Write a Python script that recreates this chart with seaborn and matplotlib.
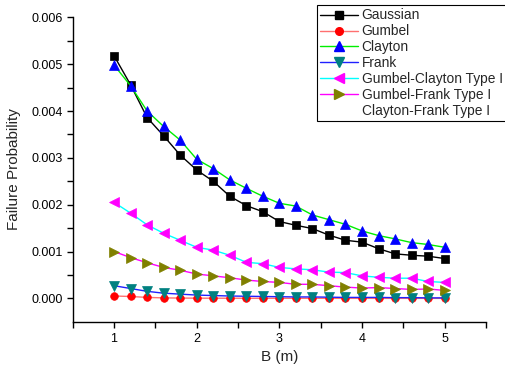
import matplotlib
matplotlib.use("Agg")
import matplotlib.pyplot as plt
from matplotlib.lines import Line2D
import seaborn as sns
import pandas as pd
import numpy as np

sns.set_theme(style="white")
plt.rcParams['font.family'] = ['Liberation Sans', 'DejaVu Sans']

B = [1.0, 1.2, 1.4, 1.6, 1.8, 2.0, 2.2, 2.4, 2.6, 2.8, 3.0,
     3.2, 3.4, 3.6, 3.8, 4.0, 4.2, 4.4, 4.6, 4.8, 5.0]

gaussian = [5.18, 4.56, 3.86, 3.47, 3.06, 2.74, 2.50, 2.18, 1.98, 1.85, 1.64,
            1.56, 1.49, 1.35, 1.24, 1.20, 1.06, 0.95, 0.92, 0.90, 0.85]
gumbel = [0.05, 0.04, 0.02, 0.01, 0.006, 0.004, 0.003, 0.002, 0.002, 0.001, 0.001,
          0.001, 0.001, 0.001, 0.0, 0.0, 0.0, 0.0, 0.0, 0.0, 0.0]
clayton = [4.98, 4.54, 4.00, 3.67, 3.38, 2.97, 2.77, 2.53, 2.35, 2.18, 2.03,
           1.97, 1.78, 1.68, 1.58, 1.44, 1.34, 1.27, 1.19, 1.15, 1.09]
frank = [0.27, 0.21, 0.15, 0.11, 0.09, 0.07, 0.06, 0.05, 0.045, 0.04, 0.035,
         0.03, 0.03, 0.025, 0.02, 0.02, 0.02, 0.015, 0.015, 0.01, 0.01]
gumbel_clayton = [2.05, 1.82, 1.57, 1.39, 1.24, 1.09, 1.03, 0.92, 0.77, 0.74, 0.66,
                  0.63, 0.61, 0.56, 0.55, 0.48, 0.45, 0.43, 0.43, 0.36, 0.34]
gumbel_frank = [1.00, 0.87, 0.76, 0.66, 0.60, 0.52, 0.48, 0.44, 0.39, 0.36, 0.34,
                0.30, 0.30, 0.27, 0.24, 0.22, 0.23, 0.21, 0.19, 0.20, 0.17]

labels = ["Gaussian", "Gumbel", "Clayton", "Frank",
          "Gumbel-Clayton Type I", "Gumbel-Frank Type I", "Clayton-Frank Type I"]

series = [
    (gaussian, "#000000", "#000000", "s", 5.5),
    (gumbel, "#ff7070", "#ff0000", "o", 5.5),
    (clayton, "#00ee00", "#0000ff", "^", 6.5),
    (frank, "#2020ff", "#008080", "v", 6.5),
    (gumbel_clayton, "#00ffff", "#ff00ff", "<", 6.5),
    (gumbel_frank, "#ff00ff", "#808000", ">", 6.5),
]

fig = plt.figure(figsize=(5.06, 3.69), dpi=100)
ax = fig.add_axes([0.1437, 0.128, 0.8168, 0.825])

handles = []
for (vals, lc, mc, mk, ms), lab in zip(series, labels):
    df = pd.DataFrame({"B": B, "P": np.array(vals) * 1e-3})
    sns.lineplot(data=df, x="B", y="P", ax=ax, color=lc, lw=1.0,
                 marker=mk, markersize=ms, markerfacecolor=mc,
                 markeredgecolor=mc, markeredgewidth=0.5)
    handles.append(Line2D([], [], color=lc, lw=1.0, marker=mk, markersize=ms,
                          markerfacecolor=mc, markeredgecolor=mc))
handles.append(Line2D([], [], color="none", lw=0))

ax.set_xlim(0.5, 5.5)
ax.set_ylim(-0.0005, 0.006)
ax.set_xticks([1, 2, 3, 4, 5])
ax.set_xticks(np.arange(0.5, 5.51, 0.5), minor=True)
ax.set_yticks(np.arange(0, 0.0061, 0.001))
ax.set_yticks(np.arange(0, 0.0061, 0.0005), minor=True)
ax.set_yticklabels([f"{v:.3f}" for v in np.arange(0, 0.0061, 0.001)])
ax.tick_params(which="both", direction="out", length=4, width=1, colors="black",
               labelsize=9, bottom=True, left=True)
ax.tick_params(axis="x", pad=4)
ax.tick_params(axis="y", pad=3)
for s in ["top", "right"]:
    ax.spines[s].set_visible(False)
for s in ["left", "bottom"]:
    ax.spines[s].set_color("black")
    ax.spines[s].set_linewidth(1.0)
ax.set_xlabel("B (m)", fontsize=11, labelpad=4)
ax.set_ylabel("Failure Probability", fontsize=11, labelpad=8)
ax.grid(False)

leg = fig.legend(handles, labels, loc="upper left",
                 bbox_to_anchor=(317 / 506, 1 - 5 / 369),
                 fontsize=9.9, frameon=True, fancybox=False, framealpha=1,
                 edgecolor="black", borderpad=0.25, labelspacing=0.14,
                 handlelength=2.7, handletextpad=0.3, borderaxespad=0)
leg.get_frame().set_linewidth(0.8)

fig.savefig("out.png", dpi=100)
